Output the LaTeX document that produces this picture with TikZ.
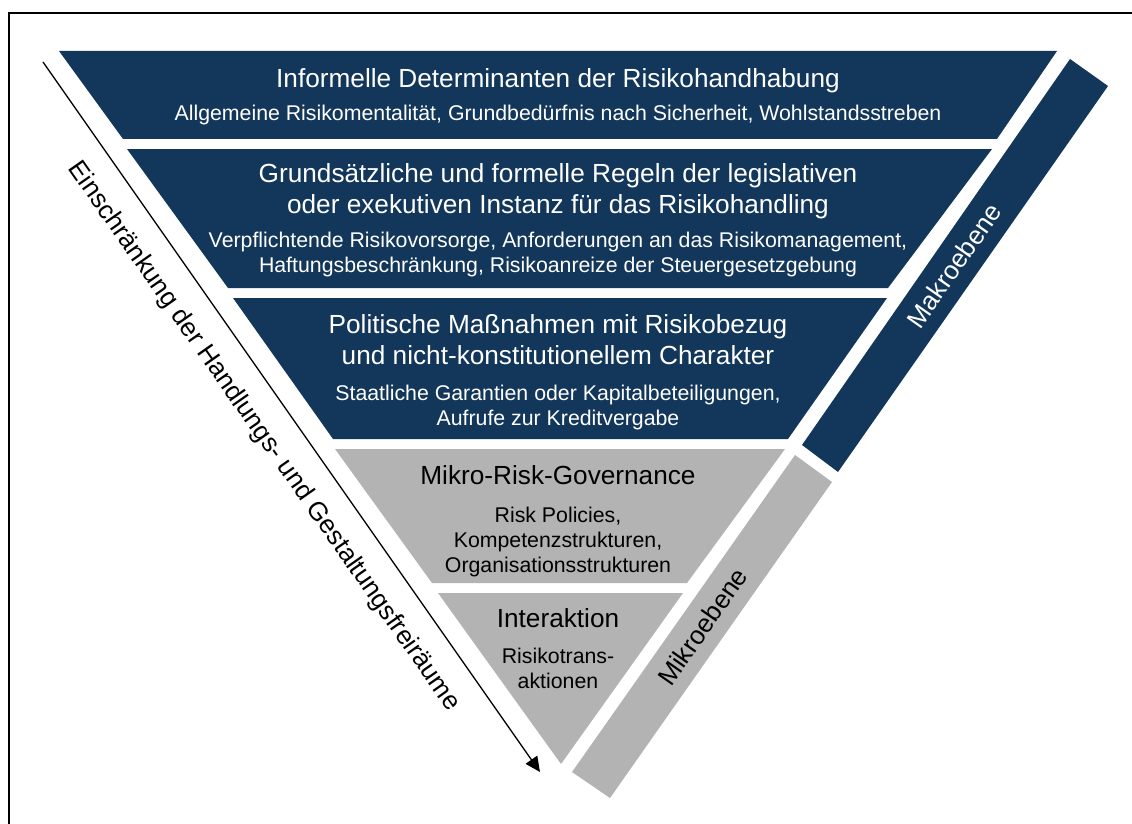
\documentclass[tikz,border=0pt]{standalone}
\usepackage{fontspec}
\setmainfont{Liberation Sans}
\usetikzlibrary{calc,arrows.meta}
\definecolor{makroblau}{RGB}{18,55,90}
\definecolor{mikrograu}{RGB}{179,179,179}
\tikzset{
	titel/.style={align=center, inner sep=0pt, font=\fontsize{26.2}{31}\selectfont},
	untertitel/.style={align=center, inner sep=0pt, font=\fontsize{21.3}{25}\selectfont},
	ebenentext/.style={inner sep=0pt, font=\fontsize{26}{31}\selectfont},
}

\begin{document}
\begin{tikzpicture}[x=1pt, y=-1pt]
		%%%%% START %%%%%
		
		\useasboundingbox (0,0) rectangle (1132,824);
		\draw[line width=1.2pt] (9,13) rectangle (1150,840);
		
		% Makroebene
		\fill[makroblau] (59,51) -- (1057,51) -- (997,139) -- (123,139) -- cycle;
		\fill[makroblau] (127,149) -- (992,149) -- (888,288) -- (228,288) -- cycle;
		\fill[makroblau] (233,298) -- (887,298) -- (788,439) -- (333,439) -- cycle;
		
		% Mikroebene
		\fill[mikrograu] (335,449) -- (785,449) -- (687,583) -- (432,583) -- cycle;
		\fill[mikrograu] (438,593) -- (683,593) -- (561,764) -- cycle;
		
		% Balken rechts
		\coordinate (makroA) at (1070,59);
		\coordinate (makroB) at (1108,86);
		\coordinate (makroC) at (838,472);
		\coordinate (makroD) at (802,445);
		\fill[makroblau] (makroA) -- (makroB) -- (makroC) -- (makroD) -- cycle;
		
		\coordinate (mikroA) at (795,455);
		\coordinate (mikroB) at (832,482);
		\coordinate (mikroC) at (610,798);
		\coordinate (mikroD) at (572,772);
		\fill[mikrograu] (mikroA) -- (mikroB) -- (mikroC) -- (mikroD) -- cycle;
		
		\node[ebenentext, white, rotate=55] (makrolabel) at ($(makroA)!0.5!(makroC)$) {Makroebene};
		\node[ebenentext, rotate=55] (mikrolabel) at ($(mikroA)!0.5!(mikroC)$) {Mikroebene};
		
		% Texte
		\node[titel, white] (informell) at (558,81) {Informelle Determinanten der Risikohandhabung};
		\node[untertitel, white] (informellsub) at (558,114.5) {Allgemeine Risikomentalität, Grundbedürfnis nach Sicherheit, Wohlstandsstreben};
		
		\node[titel, white] (regeln) at (558,191) {Grundsätzliche und formelle Regeln der legislativen\\oder exekutiven Instanz für das Risikohandling};
		\node[untertitel, white] (regelnsub) at (558,254) {Verpflichtende Risikovorsorge, Anforderungen an das Risikomanagement,\\Haftungsbeschränkung, Risikoanreize der Steuergesetzgebung};
		
		\node[titel, white] (politik) at (558,340) {Politische Maßnahmen mit Risikobezug\\und nicht-konstitutionellem Charakter};
		\node[untertitel, white] (politiksub) at (558,407) {Staatliche Garantien oder Kapitalbeteiligungen,\\Aufrufe zur Kreditvergabe};
		
		\node[titel] (governance) at (558,475.5) {Mikro-Risk-Governance};
		\node[untertitel] (governancesub) at (558,542) {Risk Policies,\\Kompetenzstrukturen,\\Organisationsstrukturen};
		
		\node[titel] (interaktion) at (558,618.5) {Interaktion};
		\node[untertitel] (interaktionsub) at (558,668) {Risikotrans-\\aktionen};
		
		% Pfeil links
		\coordinate (pfeilstart) at (43,62);
		\coordinate (pfeilende) at (540,772);
		\coordinate (pfeilmitte) at ($(pfeilstart)!0.5!(pfeilende)$);
		\draw[line width=1.3pt, -{Triangle[length=15pt, width=14pt]}] (pfeilstart) -- (pfeilende);
		\node[ebenentext, rotate=-55] (pfeiltext) at ($(pfeilmitte)!34pt!-90:(pfeilende)$) {Einschränkung der Handlungs- und Gestaltungsfreiräume};
		
		%%%%% END %%%%%
\end{tikzpicture}
\end{document}
